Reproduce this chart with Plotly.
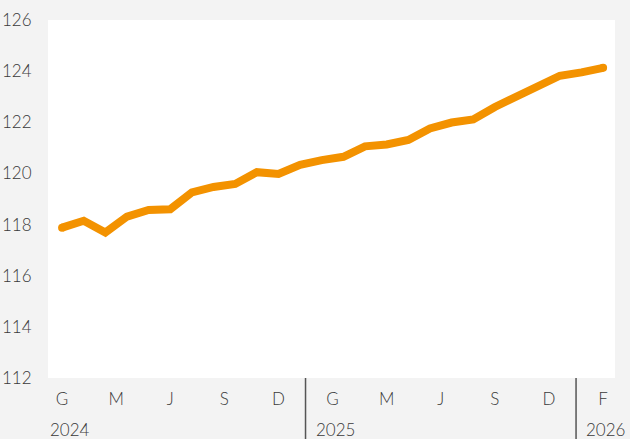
import plotly.graph_objects as go

# Monthly index values Jan 2024 .. Feb 2026
values = [117.88, 118.15, 117.69, 118.31, 118.57, 118.60, 119.26, 119.47, 119.59, 120.05,
          119.98, 120.34, 120.52, 120.65, 121.06, 121.13, 121.31, 121.76, 121.99, 122.11,
          122.60, 123.01, 123.36, 123.82, 123.95, 124.13]
month_labels = ["G", "M", "J", "S", "D", "G", "M", "J", "S", "D", "F"]
month_label_pos = [0, 2.5, 5, 7.5, 10, 12.5, 15, 17.5, 20, 22.5, 25]
years = ["2024", "2025", "2026"]
year_dividers = [11.25, 23.75]
y_ticks = [112, 114, 116, 118, 120, 122, 124, 126]

x = list(range(len(values)))
orange = "#f39200"
text_color = "#3a3a3a"
fnt = dict(family="Lato", size=17, color=text_color, weight=300)

fig = go.Figure()
fig.add_trace(go.Scatter(
    x=x, y=values, mode="lines",
    line=dict(color=orange, width=8, shape="linear"),
    hoverinfo="skip", showlegend=False,
))
# round caps at ends
fig.add_trace(go.Scatter(
    x=[x[0], x[-1]], y=[values[0], values[-1]], mode="markers",
    marker=dict(color=orange, size=8, line=dict(width=0)),
    hoverinfo="skip", showlegend=False,
))

fig.update_layout(
    template="none",
    width=630, height=439,
    margin=dict(l=48, r=15, t=20, b=61, pad=0),
    paper_bgcolor="#f3f3f3",
    plot_bgcolor="#ffffff",
    font=fnt,
    showlegend=False,
)
fig.update_xaxes(
    range=[-0.65, 25.55], automargin=False,
    tickmode="array", tickvals=month_label_pos, ticktext=month_labels,
    showgrid=False, zeroline=False, showline=False,
    ticks="outside", ticklen=6, tickcolor="rgba(0,0,0,0)",
    tickfont=fnt,
)
fig.update_yaxes(
    range=[112, 126], automargin=False,
    tickmode="array", tickvals=y_ticks,
    showgrid=False, zeroline=False, showline=False,
    ticks="outside", ticklen=12, tickcolor="rgba(0,0,0,0)",
    tickfont=fnt,
)

for d in year_dividers:
    fig.add_shape(type="line", xref="x", yref="paper", x0=d, x1=d, y0=0, y1=-0.175,
                  line=dict(color="#555555", width=1.5))

year_x = [None] + year_dividers
for yr, xd in zip(years, year_x):
    if xd is None:
        fig.add_annotation(text=yr, xref="paper", x=0, yref="paper", y=-0.145,
                           xanchor="left", yanchor="middle", showarrow=False, font=fnt)
    else:
        fig.add_annotation(text=yr, xref="x", x=xd, xshift=8, yref="paper", y=-0.145,
                           xanchor="left", yanchor="middle", showarrow=False, font=fnt)

fig.write_html("out.html", config={"displayModeBar": False},
               post_script="document.body.style.margin='0';")
